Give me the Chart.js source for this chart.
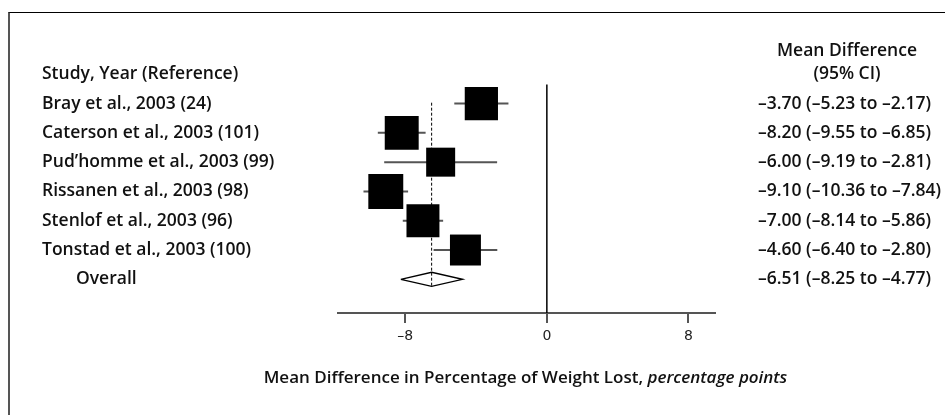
<!DOCTYPE html>
<html>
<head>
<meta charset="utf-8">
<script src="https://cdn.jsdelivr.net/npm/chart.js@4/dist/chart.umd.min.js"></script>
<style>
  html, body { margin: 0; padding: 0; background: #fff; }
  #wrap { position: relative; width: 945px; height: 415px; overflow: hidden; }
  #frame { position: absolute; left: 8px; top: 12px; width: 960px; height: 420px;
           border-left: 2px solid #555; border-top: 1px solid #000; box-sizing: border-box; }
  canvas { position: absolute; left: 0; top: 0; }
</style>
</head>
<body>
<div id="wrap">
  <div id="frame"></div>
  <canvas id="c" width="945" height="415"></canvas>
</div>
<script>
// ---- data ----
const studies = [
  "Bray et al., 2003 (24)",
  "Caterson et al., 2003 (101)",
  "Pud\u2019homme et al., 2003 (99)",
  "Rissanen et al., 2003 (98)",
  "Stenlof et al., 2003 (96)",
  "Tonstad et al., 2003 (100)"
];
const meanDiff = [-3.70, -8.20, -6.00, -9.10, -7.00, -4.60];
const ciLow    = [-5.23, -9.55, -9.19, -10.36, -8.14, -6.40];
const ciHigh   = [-2.17, -6.85, -2.81, -7.84, -5.86, -2.80];
const overallLabel = "Overall";
const overallMean = -6.51;
const overallLow  = -8.25;
const overallHigh = -4.77;
const xTicks = [-8, 0, 8];
const leftHeader = "Study, Year (Reference)";
const rightHeader = ["Mean Difference", "(95% CI)"];
const xTitle = "Mean Difference in Percentage of Weight Lost, ";
const xTitleItalic = "percentage points";

// ---- helpers ----
const dash = v => (v < 0 ? "\u2013" + Math.abs(v).toFixed(2) : v.toFixed(2));
const ciText = (m, lo, hi) => `${dash(m)} (${dash(lo)} to ${dash(hi)})`;
const nRows = studies.length;          // overall row index = nRows
const FONT = "'Open Sans', 'DejaVu Sans', sans-serif";

const datasets = [];
// squares
datasets.push({
  type: 'scatter',
  data: meanDiff.map((m, i) => ({ x: m, y: i })),
  pointStyle: 'rect',
  pointRadius: [23.5, 24.0, 20.5, 24.7, 23.3, 21.9],
  backgroundColor: '#000',
  borderWidth: 0,
  order: 0
});
// whiskers
studies.forEach((s, i) => {
  datasets.push({
    type: 'line',
    data: [{ x: ciLow[i], y: i }, { x: ciHigh[i], y: i }],
    borderColor: '#555',
    borderWidth: 2,
    pointRadius: 0,
    order: 1
  });
});
// diamond for overall
const dh = 0.24;
datasets.push({
  type: 'line',
  data: [
    { x: overallLow, y: nRows }, { x: overallMean, y: nRows - dh },
    { x: overallHigh, y: nRows }, { x: overallMean, y: nRows + dh },
    { x: overallLow, y: nRows }
  ],
  borderColor: '#000',
  borderWidth: 1.4,
  pointRadius: 0,
  tension: 0,
  order: 1
});
// dashed overall line
datasets.push({
  type: 'line',
  data: [{ x: overallMean, y: -0.03 }, { x: overallMean, y: nRows + dh }],
  borderColor: '#000',
  borderWidth: 1,
  borderDash: [3, 2],
  pointRadius: 0,
  order: 2
});
// zero line
datasets.push({
  type: 'line',
  data: [{ x: 0, y: -0.65 }, { x: 0, y: 7.15 }],
  borderColor: '#000',
  borderWidth: 1.5,
  pointRadius: 0,
  order: 3
});

const textPlugin = {
  id: 'forestText',
  afterDraw(chart) {
    const ctx = chart.ctx;
    const ys = chart.scales.y;
    const ca = chart.chartArea;
    ctx.save();
    ctx.fillStyle = '#111';
    ctx.textBaseline = 'middle';
    ctx.font = `600 17.5px ${FONT}`;
    // left column
    ctx.textAlign = 'left';
    ctx.fillText(leftHeader, 42, ys.getPixelForValue(-1));
    studies.forEach((s, i) => ctx.fillText(s, 42, ys.getPixelForValue(i)));
    ctx.fillText(overallLabel, 76, ys.getPixelForValue(nRows));
    // right column
    meanDiff.forEach((m, i) => ctx.fillText(ciText(m, ciLow[i], ciHigh[i]), 758, ys.getPixelForValue(i)));
    ctx.fillText(ciText(overallMean, overallLow, overallHigh), 758, ys.getPixelForValue(nRows));
    ctx.textAlign = 'center';
    ctx.fillText(rightHeader[0], 847, ys.getPixelForValue(-1.8));
    ctx.fillText(rightHeader[1], 847, ys.getPixelForValue(-1));
    // x axis title with italic part
    const f1 = `600 17px ${FONT}`, f2 = `italic 600 17px ${FONT}`;
    ctx.font = f1; const w1 = ctx.measureText(xTitle).width;
    ctx.font = f2; const w2 = ctx.measureText(xTitleItalic).width;
    const cx = (ca.left + ca.right) / 2 - 1;
    const x0 = cx - (w1 + w2) / 2;
    ctx.textAlign = 'left';
    ctx.font = f1; ctx.fillText(xTitle, x0, 378);
    ctx.font = f2; ctx.fillText(xTitleItalic, x0 + w1, 378);
    ctx.restore();
  }
};

new Chart(document.getElementById('c'), {
  data: { datasets },
  options: {
    responsive: false,
    animation: false,
    events: [],
    layout: { padding: { left: 338, right: 230, top: 45, bottom: 0 } },
    plugins: { legend: { display: false }, tooltip: { enabled: false } },
    scales: {
      x: {
        type: 'linear',
        min: -11.8,
        max: 9.5,
        afterBuildTicks: s => { s.ticks = xTicks.map(v => ({ value: v })); },
        afterFit: s => { s.height = 102; },
        ticks: {
          autoSkip: false,
          maxRotation: 0,
          padding: 5,
          color: '#222',
          font: { family: "'DejaVu Sans', sans-serif", size: 14 },
          callback: v => (v < 0 ? "\u2013" + Math.abs(v) : String(v))
        },
        grid: { drawOnChartArea: false, drawTicks: true, tickLength: 10, color: '#555', lineWidth: 2 },
        border: { display: true, color: '#555', width: 2 }
      },
      y: {
        type: 'linear',
        display: false,
        reverse: true,
        min: -2,
        max: 7.15
      }
    }
  },
  plugins: [textPlugin]
});
</script>
</body>
</html>
